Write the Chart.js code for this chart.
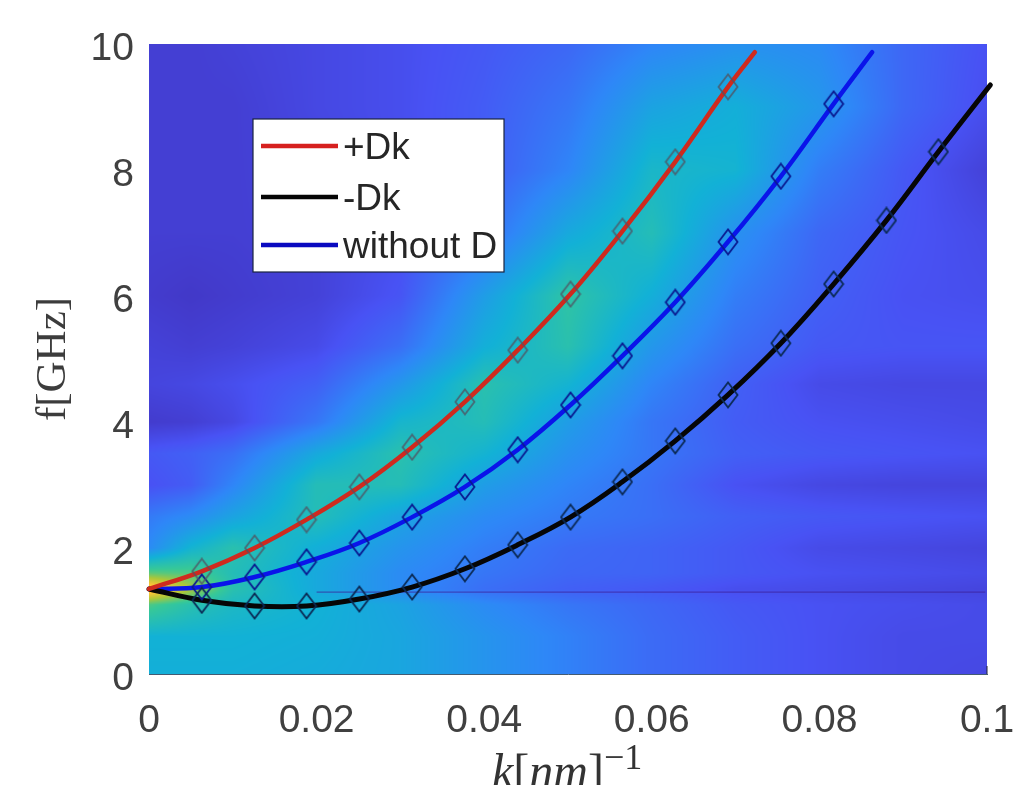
<!DOCTYPE html>
<html>
<head>
<meta charset="utf-8">
<style>
  html, body { margin: 0; background: #fff; overflow: hidden; }
  canvas { display: block; }
</style>
<script src="https://cdn.jsdelivr.net/npm/chart.js@4"></script>
</head>
<body>
<canvas id="chart" width="1019" height="785"></canvas>
<script>
// marker readings, k in nm^-1, f in GHz
const markerK = [0.0063, 0.0126, 0.0188, 0.0251, 0.0314, 0.0377, 0.044, 0.0503, 0.0565, 0.0628, 0.0691, 0.0754, 0.0817, 0.088, 0.0942];
const plusDk = [1.63, 2.0, 2.45, 2.97, 3.6, 4.32, 5.14, 6.03, 7.03, 8.13, 9.32];
const minusDk = [1.17, 1.08, 1.08, 1.19, 1.38, 1.67, 2.05, 2.49, 3.05, 3.7, 4.43, 5.25, 6.19, 7.2, 8.29];
const withoutD = [1.38, 1.54, 1.78, 2.08, 2.49, 2.97, 3.56, 4.27, 5.05, 5.9, 6.86, 7.9, 9.05];

// curve ends: all start at the same f at k = 0, and stop at different places
const startF = 1.35;
const plusEnd = [0.0723, 9.87];
const minusEnd = [0.1004, 9.35];
const withoutEnd = [0.0863, 9.87];

const xTicks = [0, 0.02, 0.04, 0.06, 0.08, 0.1];
const seriesNames = ["+Dk", "-Dk", "without D"];

// faint line across the map
const faintK = [0.02, 0.0998];
const faintF = [1.3, 1.3];

// background map, normalised 0..1
const heatK = [0, 0.005, 0.01, 0.02, 0.03, 0.04, 0.05, 0.06, 0.07, 0.08, 0.09, 0.1];
const heatF = [0, 0.6, 1.1, 1.35, 1.6, 2, 2.5, 3, 3.5, 4, 4.6, 5.2, 6, 7, 8, 9, 10];
const heatF00 = [.42, .42, .42, .41, .39, .33, .27, .21, .17, .14, .12, .11];
const heatF06 = [.43, .43, .43, .42, .39, .33, .27, .21, .17, .14, .12, .12];
const heatF11 = [.60, .52, .47, .43, .38, .30, .24, .20, .16, .14, .13, .12];
const heatF13 = [.95, .72, .52, .40, .30, .22, .18, .16, .13, .12, .11, .10];
const heatF16 = [.62, .60, .50, .40, .30, .24, .20, .19, .16, .14, .13, .12];
const heatF20 = [.30, .44, .52, .42, .33, .26, .21, .19, .16, .12, .11, .10];
const heatF25 = [.25, .30, .38, .50, .38, .30, .25, .22, .18, .16, .15, .14];
const heatF30 = [.14, .17, .28, .50, .50, .36, .28, .22, .14, .11, .10, .10];
const heatF35 = [.16, .18, .22, .40, .52, .44, .32, .24, .18, .16, .15, .14];
const heatF40 = [.07, .08, .11, .24, .45, .50, .36, .24, .17, .14, .13, .12];
const heatF46 = [.10, .11, .13, .18, .34, .52, .44, .28, .18, .12, .11, .11];
const heatF52 = [.09, .08, .09, .12, .22, .42, .52, .34, .22, .16, .15, .15];
const heatF60 = [.07, .06, .07, .09, .15, .36, .54, .42, .26, .18, .14, .13];
const heatF70 = [.08, .08, .08, .09, .13, .22, .40, .50, .32, .20, .15, .12];
const heatF80 = [.08, .08, .08, .10, .13, .17, .28, .46, .44, .26, .16, .09];
const heatF90 = [.08, .08, .08, .11, .13, .17, .24, .38, .42, .34, .20, .13];
const heatF100 = [.08, .08, .09, .11, .13, .16, .20, .28, .32, .30, .20, .14];
const heatRows = [heatF00, heatF06, heatF11, heatF13, heatF16, heatF20, heatF25, heatF30, heatF35, heatF40, heatF46, heatF52, heatF60, heatF70, heatF80, heatF90, heatF100];

// parula
const colormap = [[62, 38, 168], [72, 82, 244], [46, 135, 247], [18, 177, 214], [55, 200, 151], [171, 199, 57], [254, 195, 56], [249, 251, 21]];

function toPoints(xs, ys) {
  return ys.map((y, i) => ({ x: xs[i], y: y }));
}

function curve(values, end) {
  return [{ x: 0, y: startF }, ...toPoints(markerK, values), { x: end[0], y: end[1] }];
}

function diamond(color) {
  const c = document.createElement("canvas");
  c.width = 22;
  c.height = 28;
  const g = c.getContext("2d");
  g.strokeStyle = color;
  g.lineWidth = 1.8;
  g.beginPath();
  g.moveTo(11, 1.5);
  g.lineTo(20.5, 14);
  g.lineTo(11, 26.5);
  g.lineTo(1.5, 14);
  g.closePath();
  g.stroke();
  return c;
}

function findCell(list, v) {
  let i = 0;
  while (i < list.length - 2 && v > list[i + 1]) i++;
  const t = Math.min(1, Math.max(0, (v - list[i]) / (list[i + 1] - list[i])));
  return [i, t];
}

function mapColor(v) {
  const p = Math.min(0.9999, Math.max(0, v)) * (colormap.length - 1);
  const i = Math.floor(p), t = p - i;
  return colormap[i].map((c, n) => c + (colormap[i + 1][n] - c) * t);
}

const heatmap = {
  id: "heatmap",
  beforeDatasetsDraw(chart) {
    const a = chart.chartArea;
    const w = Math.round(a.right - a.left), h = Math.round(a.bottom - a.top);
    const off = document.createElement("canvas");
    off.width = w;
    off.height = h;
    const g = off.getContext("2d");
    const img = g.createImageData(w, h);
    for (let py = 0; py < h; py++) {
      const [r, tr] = findCell(heatF, chart.scales.y.getValueForPixel(a.top + py + 0.5));
      for (let px = 0; px < w; px++) {
        const [c, tc] = findCell(heatK, chart.scales.x.getValueForPixel(a.left + px + 0.5));
        const v = (heatRows[r][c] * (1 - tc) + heatRows[r][c + 1] * tc) * (1 - tr)
          + (heatRows[r + 1][c] * (1 - tc) + heatRows[r + 1][c + 1] * tc) * tr;
        const col = mapColor(v), o = (py * w + px) * 4;
        img.data[o] = col[0];
        img.data[o + 1] = col[1];
        img.data[o + 2] = col[2];
        img.data[o + 3] = 255;
      }
    }
    g.putImageData(img, 0, 0);
    chart.ctx.drawImage(off, a.left, a.top);
  },
};

// legend box sits inside the plot, and the x title has mixed italic and superscript
const annotations = {
  id: "annotations",
  afterDraw(chart) {
    const ctx = chart.ctx;
    ctx.save();
    ctx.fillStyle = "#fff";
    ctx.fillRect(253, 119, 251, 153);
    ctx.strokeStyle = "#1a2340";
    ctx.lineWidth = 1.2;
    ctx.strokeRect(253, 119, 251, 153);
    const rows = [146, 197, 245];
    const colors = ["#d6201f", "#050505", "#0a0ac0"];
    seriesNames.forEach((name, i) => {
      ctx.strokeStyle = colors[i];
      ctx.lineWidth = 4.5;
      ctx.beginPath();
      ctx.moveTo(261, rows[i]);
      ctx.lineTo(338, rows[i]);
      ctx.stroke();
      ctx.fillStyle = "#262626";
      ctx.font = "37px 'Liberation Sans'";
      ctx.textBaseline = "middle";
      ctx.textAlign = "left";
      ctx.fillText(name, 343, rows[i] + 3);
    });

    // tick inside the plot at the bottom right corner
    ctx.strokeStyle = "#223";
    ctx.lineWidth = 1;
    ctx.beginPath();
    ctx.moveTo(chart.chartArea.right, chart.chartArea.bottom);
    ctx.lineTo(chart.chartArea.right, chart.chartArea.bottom - 8);
    ctx.stroke();

    ctx.fillStyle = "#333";
    ctx.textBaseline = "alphabetic";
    let x = 492;
    const parts = [
      ["italic 48px 'Liberation Serif'", "k", 787],
      ["48px 'Liberation Serif'", "[", 787],
      ["italic 48px 'Liberation Serif'", "nm", 787],
      ["48px 'Liberation Serif'", "]", 787],
      ["36px 'Liberation Serif'", "\u22121", 769],
    ];
    parts.forEach((p) => {
      ctx.font = p[0];
      ctx.fillText(p[1], x, p[2]);
      x += ctx.measureText(p[1]).width;
    });
    ctx.restore();
  },
};

new Chart(document.getElementById("chart"), {
  type: "scatter",
  data: {
    datasets: [
      { label: "faint", data: toPoints(faintK, faintF), showLine: true, borderColor: "rgba(60,30,150,0.75)", borderWidth: 1, pointRadius: 0, order: 5 },
      { label: seriesNames[0], data: curve(plusDk, plusEnd), showLine: true, borderColor: "#cf2a1e", borderWidth: 4.5, tension: 0.4, pointRadius: 0, borderCapStyle: "round", clip: false, order: 2 },
      { label: seriesNames[1], data: curve(minusDk, minusEnd), showLine: true, borderColor: "#060606", borderWidth: 5, tension: 0.4, pointRadius: 0, borderCapStyle: "round", clip: false, order: 2 },
      { label: seriesNames[2], data: curve(withoutD, withoutEnd), showLine: true, borderColor: "#0a14ea", borderWidth: 4.5, tension: 0.4, pointRadius: 0, borderCapStyle: "round", clip: false, order: 2 },
      { label: "plus markers", data: toPoints(markerK, plusDk), pointStyle: diamond("rgba(80,85,100,0.8)"), order: 1 },
      { label: "minus markers", data: toPoints(markerK, minusDk), pointStyle: diamond("#0b2a55"), order: 1 },
      { label: "without markers", data: toPoints(markerK, withoutD), pointStyle: diamond("#0a1a90"), order: 1 },
    ],
  },
  options: {
    responsive: false,
    animation: false,
    layout: { padding: { top: 44, right: 32 } },
    plugins: { legend: { display: false }, tooltip: { enabled: false } },
    scales: {
      x: {
        type: "linear",
        min: 0,
        max: 0.1,
        afterFit: (s) => { s.height = 111; s.paddingRight = 0; s.paddingLeft = 0; },
        afterBuildTicks: (s) => { s.ticks = xTicks.map((v) => ({ value: v })); },
        grid: { display: false },
        border: { display: true, color: "rgba(20,50,80,0.8)", width: 1 },
        ticks: {
          color: "#404040",
          padding: 16,
          maxRotation: 0,
          autoSkip: false,
          font: { family: "'Liberation Sans'", size: 39 },
          callback: (v) => String(v),
        },
      },
      y: {
        min: 0,
        max: 10,
        afterFit: (s) => { s.width = 149; },
        grid: { display: false },
        border: { display: false },
        title: {
          display: true,
          text: "f[GHz]",
          color: "#3c3c3c",
          padding: { top: 28, bottom: 0 },
          font: { family: "'Liberation Serif'", size: 43 },
        },
        ticks: {
          stepSize: 2,
          color: "#404040",
          padding: 7,
          labelOffset: 5,
          font: { family: "'Liberation Sans'", size: 39 },
        },
      },
    },
  },
  plugins: [heatmap, annotations],
});
</script>
</body>
</html>
